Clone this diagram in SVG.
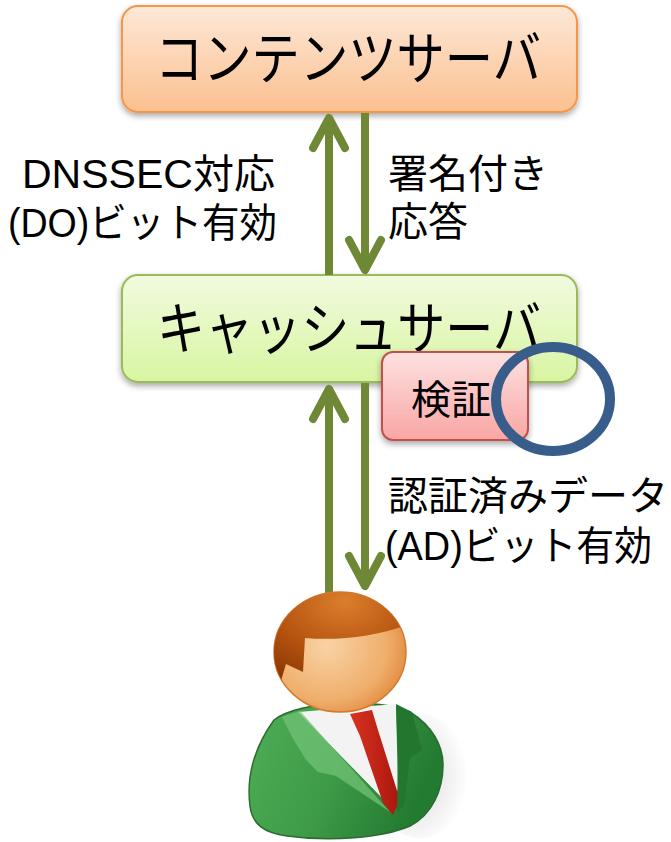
<svg xmlns="http://www.w3.org/2000/svg" width="671" height="842" viewBox="0 0 671 842">
  <style>
    .title { font-family: "Liberation Sans", "Noto Sans CJK JP", sans-serif; font-size: 57px; fill: #000; }
    .label { font-family: "Liberation Sans", "Noto Sans CJK JP", sans-serif; font-size: 40px; fill: #000; }
    .flow { fill: none; stroke: #6f8836; stroke-width: 8; marker-end: url(#chevron); }
  </style>
  <defs>
    <linearGradient id="gOrange" x1="0" y1="0" x2="0" y2="1">
      <stop offset="0" stop-color="#fde8d8"/>
      <stop offset="1" stop-color="#fbc08f"/>
    </linearGradient>
    <linearGradient id="gGreen" x1="0" y1="0" x2="0" y2="1">
      <stop offset="0" stop-color="#f1fbdf"/>
      <stop offset="1" stop-color="#d8f5a2"/>
    </linearGradient>
    <linearGradient id="gRed" x1="0" y1="0" x2="0" y2="1">
      <stop offset="0" stop-color="#fde1e1"/>
      <stop offset="1" stop-color="#f9a6a4"/>
    </linearGradient>
    <radialGradient id="gFace" cx="0.4" cy="0.45" r="0.65">
      <stop offset="0" stop-color="#f9d3a4"/>
      <stop offset="0.7" stop-color="#efae6c"/>
      <stop offset="1" stop-color="#e0893d"/>
    </radialGradient>
    <radialGradient id="gHair" cx="0.55" cy="0.2" r="0.8">
      <stop offset="0" stop-color="#db7e2c"/>
      <stop offset="0.6" stop-color="#b4520f"/>
      <stop offset="1" stop-color="#8c3606"/>
    </radialGradient>
    <linearGradient id="gSuit" x1="0" y1="0" x2="1" y2="0.3">
      <stop offset="0" stop-color="#4fae57"/>
      <stop offset="0.55" stop-color="#3d9a47"/>
      <stop offset="1" stop-color="#237a31"/>
    </linearGradient>
    <linearGradient id="gTie" x1="0" y1="0" x2="1" y2="0">
      <stop offset="0" stop-color="#d93322"/>
      <stop offset="1" stop-color="#a9170c"/>
    </linearGradient>
    <radialGradient id="gShade" cx="0.4" cy="0.5" r="0.6">
      <stop offset="0" stop-color="#d5d5d5"/>
      <stop offset="1" stop-color="#ffffff"/>
    </radialGradient>
    <clipPath id="headClip">
      <ellipse cx="340" cy="652" rx="66" ry="60"/>
    </clipPath>
    <filter id="shadow" x="-10%" y="-20%" width="120%" height="150%">
      <feDropShadow dx="0" dy="3" stdDeviation="3" flood-color="#000" flood-opacity="0.35"/>
    </filter>
    <marker id="chevron" markerUnits="userSpaceOnUse" viewBox="-40 -24 48 48" refX="0" refY="0" markerWidth="48" markerHeight="48" orient="auto" overflow="visible">
      <path d="M -30,-16 L 0,0 L -30,16" fill="none" stroke="#6f8836" stroke-width="8" stroke-linecap="round" stroke-linejoin="round"/>
    </marker>
  </defs>

  <rect width="671" height="842" fill="#ffffff"/>

  <!-- server boxes -->
  <g id="content-server">
    <rect x="122" y="6" width="455" height="106" rx="16" fill="url(#gOrange)" stroke="#f79646" stroke-width="2" filter="url(#shadow)"/>
    <text class="title" x="155" y="79" textLength="386" lengthAdjust="spacingAndGlyphs">コンテンツサーバ</text>
  </g>

  <g id="cache-server">
    <rect x="122" y="275" width="455" height="107" rx="16" fill="url(#gGreen)" stroke="#9bbb59" stroke-width="2" filter="url(#shadow)"/>
    <text class="title" x="157" y="349" textLength="384" lengthAdjust="spacingAndGlyphs">キャッシュサーバ</text>
  </g>

  <g id="verify">
    <rect x="382" y="352" width="146" height="88" rx="11" fill="url(#gRed)" stroke="#c0504d" stroke-width="2" filter="url(#shadow)"/>
    <text class="label" x="411" y="414">検証</text>
  </g>

  <!-- request / response arrows -->
  <g id="connectors">
    <path class="flow" d="M 329,275 L 329,118"/>
    <path class="flow" d="M 365,113 L 365,270"/>
    <path class="flow" d="M 329,593 L 329,389"/>
    <path class="flow" d="M 365,383 L 365,586"/>
  </g>

  <!-- edge labels -->
  <g id="labels">
    <text class="label" x="22" y="188" textLength="253" lengthAdjust="spacingAndGlyphs">DNSSEC対応</text>
    <text class="label" x="8" y="237" textLength="269" lengthAdjust="spacingAndGlyphs">(DO)ビット有効</text>
    <text class="label" x="388" y="188">署名付き</text>
    <text class="label" x="388" y="236">応答</text>
    <text class="label" x="388" y="510">認証済みデータ</text>
    <text class="label" x="385" y="560" textLength="267" lengthAdjust="spacingAndGlyphs">(AD)ビット有効</text>
  </g>

  <!-- emphasis ring -->
  <g id="highlight">
    <ellipse cx="553" cy="399" rx="57" ry="52" fill="none" stroke="#385d8a" stroke-width="10"/>
  </g>

  <!-- user icon -->
  <g id="user">
    <ellipse cx="420" cy="776" rx="48" ry="62" fill="url(#gShade)"/>
    <path d="M 274,720 C 256,745 246,775 250,806 C 252,824 264,833 287,836 C 330,842 382,838 410,826 C 432,815 443,790 443,765 C 443,745 432,726 410,712 C 380,698 300,700 274,720 Z" fill="url(#gSuit)" stroke="#2b6b30" stroke-width="1.5"/>
    <path d="M 298,712 L 396,704 L 398,790 L 386,802 Z" fill="#f3f3f3"/>
    <path d="M 350,714 L 372,710 L 378,730 L 400,800 L 393,815 L 383,803 L 360,736 Z" fill="url(#gTie)"/>
    <path d="M 282,717 L 300,711 L 390,812 L 336,776 L 318,772 L 306,760 L 292,737 Z" fill="#72c276" opacity="0.75"/>
    <path d="M 396,704 L 412,712 L 422,750 L 410,758 L 404,806 L 397,812 L 398,760 Z" fill="#22762e"/>
    <ellipse cx="340" cy="652" rx="66" ry="60" fill="url(#gFace)" stroke="#d47b2f" stroke-width="1.5"/>
    <path d="M 262,690 L 280,684 L 286,664 L 303,672 L 305,638 C 340,641 378,636 410,624 L 412,580 L 262,580 Z" fill="url(#gHair)" clip-path="url(#headClip)"/>
  </g>
</svg>
